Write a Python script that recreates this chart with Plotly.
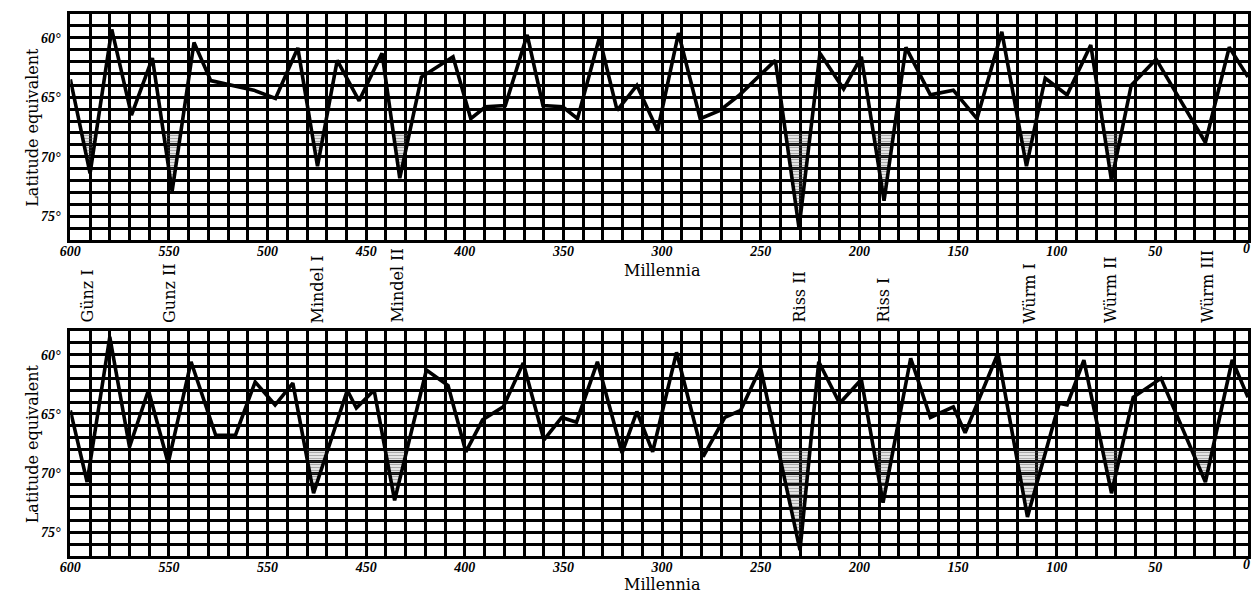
import plotly.graph_objects as go

# ---------------- data ----------------
top_t = [600, 590, 579, 569, 558.4, 548.4, 537.3, 528.8, 507, 496, 484.7, 474.7, 464.7, 453.6, 442,
         433, 422, 406, 397, 389.5, 379.5, 368.4, 360.4, 350.4, 342.9, 331.8, 322.8, 312.8, 302.3,
         291.7, 280.7, 270.7, 260.7, 242.6, 230.6, 220, 208, 199, 187.5, 176.4, 164, 152.4, 140.4,
         127.8, 115.3, 105.8, 94.7, 82.7, 72.2, 62.2, 49.6, 24.6, 12.5, 3]
top_lat = [63.5, 71.4, 59.3, 66.5, 61.7, 72.9, 60.4, 63.6, 64.4, 65.1, 60.85, 70.8, 61.9, 65.3, 61.3,
           71.8, 63.3, 61.6, 66.8, 65.8, 65.7, 59.75, 65.7, 65.8, 66.8, 60.0, 66.1, 64.0, 67.8,
           59.6, 66.8, 66.1, 64.8, 61.9, 76.0, 61.3, 64.3, 61.6, 73.7, 60.8, 64.8, 64.4, 66.8,
           59.5, 70.8, 63.4, 64.8, 60.6, 72.0, 64.0, 61.8, 68.8, 60.8, 63.3]

bot_t = [600, 591.5, 580, 570, 560.4, 550.4, 538.8, 526.3, 516.3, 506.3, 496.2, 487.2, 476.7, 459.6,
         455, 446, 435.6, 419.5, 408.5, 399.5, 391, 380.5, 370.4, 359.9, 350.9, 343.4, 332.8, 320.3,
         312.8, 304.8, 292.7, 279.2, 268.2, 260.2, 250.1, 230.1, 220.6, 210, 199, 188, 174, 164,
         152.4, 146.4, 129.8, 114.8, 98.7, 94.7, 86.2, 72.2, 61.2, 47.1, 24.6, 11, 3]
bot_lat = [64.7, 70.75, 58.5, 67.8, 63.0, 69.15, 60.6, 66.8, 66.8, 62.3, 64.25, 62.4, 71.7, 63.0,
           64.5, 63.0, 72.3, 61.3, 62.6, 68.2, 65.5, 64.4, 60.7, 67.2, 65.3, 65.7, 60.6, 68.3,
           64.8, 68.2, 59.8, 68.6, 65.3, 64.7, 61.1, 76.5, 60.6, 64.1, 62.1, 72.5, 60.3, 65.3,
           64.4, 66.6, 59.9, 73.7, 64.1, 64.25, 60.45, 71.7, 63.6, 62.0, 70.75, 60.45, 63.6]

glacial_names = ["Günz I", "Gunz II", "Mindel I", "Mindel II", "Riss II", "Riss I",
                 "Würm I", "Würm II", "Würm III"]
glacial_t = [591.5, 550, 474.7, 434.6, 230.6, 188, 113.8, 72.7, 23.6]
hatch_top = ["Günz I", "Gunz II", "Mindel I", "Mindel II", "Riss II", "Riss I",
             "Würm I", "Würm II", "Würm III"]
hatch_bot = ["Mindel I", "Mindel II", "Riss II", "Riss I", "Würm I", "Würm II", "Würm III"]
threshold = 68.0

x_tickvals = [600, 550, 500, 450, 400, 350, 300, 250, 200, 150, 100, 50]
x_ticktext_top = ["600", "550", "500", "450", "400", "350", "300", "250", "200", "150", "100", "50"]
x_ticktext_bot = ["600", "550", "550", "450", "400", "350", "300", "250", "200", "150", "100", "50"]
y_tickvals = [60, 65, 70, 75]
y_ticktext = ["60°", "65°", "70°", "75°"]

# ---------------- layout geometry ----------------
W, H = 1251, 594
x_left_px = 60
x_range = [600, 3]
top_px = (14, 240)
bot_px = (331, 556)


def dom(px):
    return [1 - px[1] / H, 1 - px[0] / H]


def hatch_polygon(ts, ls, center):
    cand = [i for i in range(len(ts)) if abs(ts[i] - center) <= 9]
    k = max(cand, key=lambda i: ls[i])
    if ls[k] <= threshold:
        return None
    xs, ys = [], []
    i = k
    while i > 0 and ls[i - 1] > threshold:
        i -= 1
    if i > 0:
        f = (threshold - ls[i - 1]) / (ls[i] - ls[i - 1])
        xs.append(ts[i - 1] + f * (ts[i] - ts[i - 1]))
        ys.append(threshold)
    j = i
    while j < len(ts) and ls[j] > threshold:
        xs.append(ts[j])
        ys.append(ls[j])
        j += 1
    if j < len(ts):
        f = (threshold - ls[j - 1]) / (ls[j] - ls[j - 1])
        xs.append(ts[j - 1] + f * (ts[j] - ts[j - 1]))
        ys.append(threshold)
    xs.append(xs[0])
    ys.append(ys[0])
    return xs, ys


fig = go.Figure()

panels = [("x", "y", top_t, top_lat, hatch_top), ("x2", "y2", bot_t, bot_lat, hatch_bot)]
for xa, ya, ts, ls, hl in panels:
    for name, tc in zip(glacial_names, glacial_t):
        if name not in hl:
            continue
        poly = hatch_polygon(ts, ls, tc)
        if poly is None:
            continue
        fig.add_trace(go.Scatter(
            x=poly[0], y=poly[1], xaxis=xa, yaxis=ya, mode="lines",
            line=dict(width=0, color="rgba(0,0,0,0)"), fill="toself",
            fillcolor="rgba(0,0,0,0)",
            fillpattern=dict(shape="-", fgcolor="#555555", bgcolor="rgba(0,0,0,0)",
                             size=3, solidity=0.55),
            hoverinfo="skip", showlegend=False))
    fig.add_trace(go.Scatter(x=ts, y=ls, xaxis=xa, yaxis=ya, mode="lines",
                             line=dict(color="black", width=3.6), showlegend=False))

tickfont = dict(family="Liberation Serif", size=14, color="black", weight="bold", style="italic")

xaxis_common = dict(
    range=x_range, showgrid=True, gridcolor="black", gridwidth=3,
    tickvals=x_tickvals, ticks="", showline=True, linecolor="black", linewidth=3,
    mirror=True, zeroline=False, tickfont=tickfont, ticklabelstandoff=-4,
    minor=dict(dtick=10, tick0=0, showgrid=True, gridcolor="black", gridwidth=3, ticks=""),
    domain=[x_left_px / W, 1])
yaxis_common = dict(
    range=[77, 58], showgrid=True, gridcolor="black", gridwidth=3,
    tickvals=y_tickvals, ticktext=y_ticktext, ticks="", showline=True, linecolor="black",
    linewidth=3, mirror=True, zeroline=False, tickfont=tickfont, ticklabelstandoff=4,
    minor=dict(dtick=1, tick0=58, showgrid=True, gridcolor="black", gridwidth=3, ticks=""))

fig.update_layout(
    width=W, height=H, margin=dict(l=0, r=0, t=0, b=0),
    paper_bgcolor="white", plot_bgcolor="white", showlegend=False,
    xaxis=dict(xaxis_common, anchor="y", ticktext=x_ticktext_top),
    yaxis=dict(yaxis_common, anchor="x", domain=dom(top_px)),
    xaxis2=dict(xaxis_common, anchor="y2", ticktext=x_ticktext_bot),
    yaxis2=dict(yaxis_common, anchor="x2", domain=dom(bot_px)),
)

titlefont = dict(family="DejaVu Serif", size=16, color="black")
labelfont = dict(family="DejaVu Serif", size=16, color="black")

ann = []
for px, off in ((top_px, 30), (bot_px, 28)):
    ann.append(dict(text="Millennia", x=0.5 * (x_left_px / W + 1257 / W), xref="paper",
                    y=1 - (px[1] + off) / H, yref="paper", xanchor="center", yanchor="middle",
                    showarrow=False, font=titlefont))
    ann.append(dict(text="Latitude equivalent", x=22 / W, xref="paper",
                    y=1 - (px[0] + px[1]) / 2 / H, yref="paper", textangle=-90,
                    xanchor="center", yanchor="middle", showarrow=False, font=titlefont))
    # partially visible "0" tick label cut by the right edge
    ann.append(dict(text="0", x=1, xref="paper", y=1 - (px[1] + 8) / H, yref="paper",
                    showarrow=False, font=tickfont, xanchor="right", xshift=4,
                    yanchor="middle"))
for name, tc in zip(glacial_names, glacial_t):
    ann.append(dict(text=name, x=tc, xref="x", y=1 - 325 / H, yref="paper",
                    textangle=-90, yanchor="bottom", xanchor="center",
                    showarrow=False, font=labelfont))
fig.update_layout(annotations=ann)

fig.write_html("out.html")
